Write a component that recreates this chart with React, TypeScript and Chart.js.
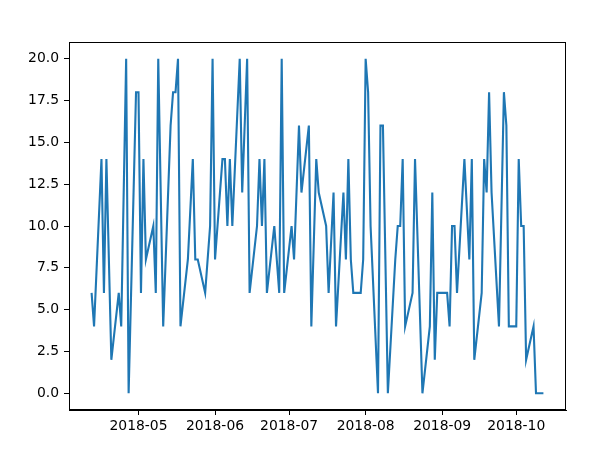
import React, { useEffect, useRef } from "react";
import { Chart, registerables } from "chart.js";

Chart.register(...registerables);

const dates: string[] = [
  "2018-04-12", "2018-04-13", "2018-04-16", "2018-04-17", "2018-04-18", "2018-04-20",
  "2018-04-23", "2018-04-24", "2018-04-26", "2018-04-27", "2018-04-30", "2018-05-01",
  "2018-05-02", "2018-05-03", "2018-05-04", "2018-05-07", "2018-05-08", "2018-05-09",
  "2018-05-11", "2018-05-14", "2018-05-15", "2018-05-16", "2018-05-17", "2018-05-18",
  "2018-05-21", "2018-05-23", "2018-05-24", "2018-05-25", "2018-05-28", "2018-05-30",
  "2018-05-31", "2018-06-01", "2018-06-04", "2018-06-05", "2018-06-06", "2018-06-07",
  "2018-06-08", "2018-06-11", "2018-06-12", "2018-06-14", "2018-06-15", "2018-06-18",
  "2018-06-19", "2018-06-20", "2018-06-21", "2018-06-22", "2018-06-25", "2018-06-27",
  "2018-06-28", "2018-06-29", "2018-07-02", "2018-07-03", "2018-07-05", "2018-07-06",
  "2018-07-09", "2018-07-10", "2018-07-12", "2018-07-13", "2018-07-16", "2018-07-17",
  "2018-07-19", "2018-07-20", "2018-07-23", "2018-07-24", "2018-07-25", "2018-07-26",
  "2018-07-27", "2018-07-30", "2018-07-31", "2018-08-01", "2018-08-02", "2018-08-03",
  "2018-08-06", "2018-08-07", "2018-08-08", "2018-08-10", "2018-08-13", "2018-08-14",
  "2018-08-15", "2018-08-16", "2018-08-17", "2018-08-20", "2018-08-21", "2018-08-24",
  "2018-08-27", "2018-08-28", "2018-08-29", "2018-08-30", "2018-09-03", "2018-09-04",
  "2018-09-05", "2018-09-06", "2018-09-07", "2018-09-10", "2018-09-12", "2018-09-13",
  "2018-09-14", "2018-09-17", "2018-09-18", "2018-09-19", "2018-09-20", "2018-09-21",
  "2018-09-24", "2018-09-26", "2018-09-27", "2018-09-28", "2018-10-01", "2018-10-02",
  "2018-10-03", "2018-10-04", "2018-10-05", "2018-10-08", "2018-10-09", "2018-10-12",
];

const values: number[] = [
  6, 4, 14, 6, 14, 2,
  6, 4, 20, 0, 18, 18,
  6, 14, 8, 10, 6, 20,
  4, 16, 18, 18, 20, 4,
  8, 14, 8, 8, 6, 10,
  20, 8, 14, 14, 10, 14,
  10, 20, 12, 20, 6, 10,
  14, 10, 14, 6, 10, 6,
  20, 6, 10, 8, 16, 12,
  16, 4, 14, 12, 10, 6,
  12, 4, 12, 8, 14, 8,
  6, 6, 8, 20, 18, 10,
  0, 16, 16, 0, 8, 10,
  10, 14, 4, 6, 14, 0,
  4, 12, 2, 6, 6, 4,
  10, 10, 6, 14, 8, 14,
  2, 6, 14, 12, 18, 12,
  4, 18, 16, 4, 4, 14,
  10, 10, 2, 4, 0, 0,
];

const monthTicks: string[] = ["2018-05", "2018-06", "2018-07", "2018-08", "2018-09", "2018-10"];
const yTicks: number[] = [0, 2.5, 5, 7.5, 10, 12.5, 15, 17.5, 20];

const toDay = (s: string) =>
  Date.UTC(+s.slice(0, 4), +s.slice(5, 7) - 1, s.length > 7 ? +s.slice(8, 10) : 1) / 86400000;

const framePlugin = {
  id: "frame",
  afterDraw(chart: any) {
    const { ctx, chartArea } = chart;
    ctx.save();
    ctx.strokeStyle = "#000";
    ctx.lineWidth = 1;
    ctx.strokeRect(
      Math.round(chartArea.left) + 0.5,
      Math.round(chartArea.top) + 0.5,
      Math.round(chartArea.right - chartArea.left) - 1,
      Math.round(chartArea.bottom - chartArea.top) - 1
    );
    ctx.restore();
  },
};

export default function App() {
  const ref = useRef<HTMLCanvasElement | null>(null);

  useEffect(() => {
    if (!ref.current) return;
    const days = dates.map(toDay);
    const dMin = Math.min(...days);
    const dMax = Math.max(...days);
    const dPad = (dMax - dMin) * 0.05;
    const vMin = Math.min(...values);
    const vMax = Math.max(...values);
    const vPad = (vMax - vMin) * 0.05;
    const monthDays = monthTicks.map(toDay);
    const font = { family: "'DejaVu Sans', sans-serif", size: 13.9 };

    const chart = new Chart(ref.current, {
      type: "line",
      data: {
        datasets: [
          {
            data: days.map((d, i) => ({ x: d, y: values[i] })),
            borderColor: "#1f77b4",
            borderWidth: 2.1,
            pointRadius: 0,
            tension: 0,
            fill: false,
          },
        ],
      },
      options: {
        animation: false,
        responsive: false,
        devicePixelRatio: 1,
        layout: { padding: { left: 0, top: 42, right: 48, bottom: 0 } },
        plugins: { legend: { display: false }, tooltip: { enabled: false } },
        scales: {
          x: {
            type: "linear",
            min: dMin - dPad,
            max: dMax + dPad,
            afterBuildTicks: (scale: any) => {
              scale.ticks = monthDays.map((v) => ({ value: v }));
            },
            afterFit: (scale: any) => {
              scale.height = 41;
            },
            ticks: {
              autoSkip: false,
              maxRotation: 0,
              color: "#000",
              font,
              padding: 3,
              callback: (v: any) => {
                const i = monthDays.indexOf(Number(v));
                return i >= 0 ? monthTicks[i] : "";
              },
            },
            grid: {
              drawOnChartArea: false,
              drawTicks: true,
              tickLength: 5,
              tickColor: "#000",
              tickWidth: 1,
            },
            border: { display: true, color: "#000", width: 1 },
          },
          y: {
            type: "linear",
            min: vMin - vPad,
            max: vMax + vPad,
            afterBuildTicks: (scale: any) => {
              scale.ticks = yTicks.map((v) => ({ value: v }));
            },
            afterFit: (scale: any) => {
              scale.width = 69;
            },
            ticks: {
              color: "#000",
              font,
              padding: 5,
              callback: (v: any) => Number(v).toFixed(1),
            },
            grid: {
              drawOnChartArea: false,
              drawTicks: true,
              tickLength: 5,
              tickColor: "#000",
              tickWidth: 1,
            },
            border: { display: true, color: "#000", width: 1 },
          },
        },
      },
      plugins: [framePlugin],
    } as any);

    return () => chart.destroy();
  }, []);

  return (
    <div style={{ position: "fixed", left: 0, top: 0, width: 614, height: 451, background: "#fff" }}>
      <canvas ref={ref} width={614} height={451} style={{ display: "block" }} />
    </div>
  );
}
